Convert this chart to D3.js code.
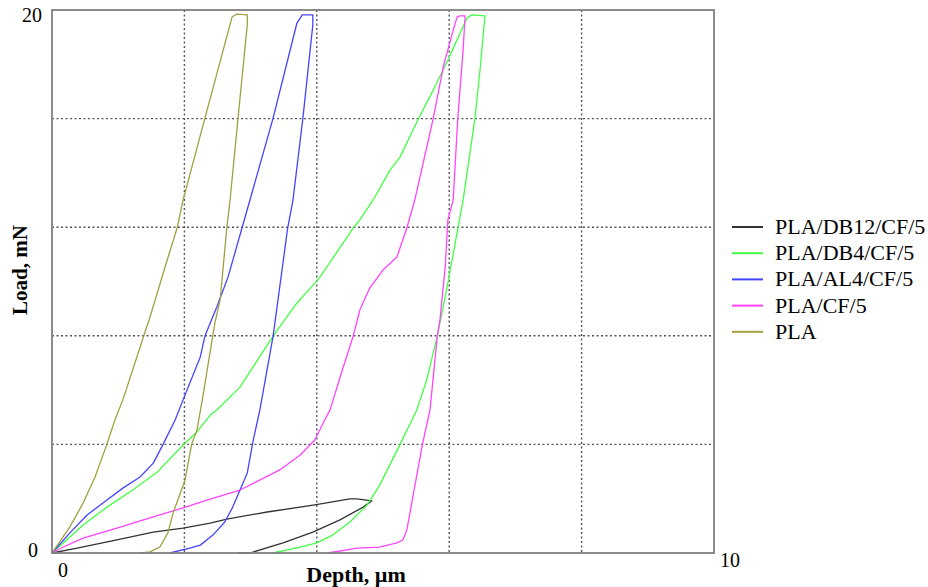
<!DOCTYPE html>
<html>
<head>
<meta charset="utf-8">
<script src="https://cdn.jsdelivr.net/npm/d3@7"></script>
<style>
  body { margin: 0; background: #fff; }
  svg { display: block; }
  text { font-family: "Liberation Serif", "Times New Roman", serif; fill: #000; }
</style>
</head>
<body>
<div id="chart"></div>
<script>
// depth (um), load (mN) - loading branch then unloading branch
const seriesNames = ['PLA/DB12/CF/5', 'PLA/DB4/CF/5', 'PLA/AL4/CF/5', 'PLA/CF/5', 'PLA'];

const db12 = [
    [0, 0], [0.38, 0.18], [0.98, 0.48], [1.53, 0.77], [1.98, 0.92], [2.39, 1.10], [2.64, 1.25],
    [3.25, 1.51], [3.97, 1.77], [4.50, 1.99], [4.61, 1.99], [4.83, 1.92],
    [4.70, 1.69], [4.35, 1.22], [3.94, 0.77], [3.49, 0.37], [2.99, 0], [2.81, 0]
];

const db4 = [
    [0, 0], [0.27, 0.59], [0.47, 1.03], [0.83, 1.69], [1.22, 2.32], [1.59, 2.98], [1.98, 3.98],
    [2.19, 4.46], [2.39, 5.08], [2.49, 5.27], [2.84, 6.11], [3.34, 7.99], [3.70, 9.21], [3.97, 9.94],
    [4.05, 10.17], [4.55, 11.97], [4.65, 12.27], [4.85, 13.00], [5.11, 14.11], [5.26, 14.59],
    [5.54, 16.02], [5.76, 17.05], [5.98, 18.16], [6.27, 19.71], [6.34, 19.82], [6.54, 19.78],
    [6.47, 17.90], [6.39, 16.02], [6.21, 13.00], [5.98, 9.94], [5.82, 7.99], [5.66, 6.37],
    [5.51, 5.27], [5.26, 4.01], [4.95, 2.50], [4.76, 1.77], [4.50, 1.14], [4.24, 0.66],
    [4.00, 0.37], [3.75, 0.22], [3.34, 0]
];

const al4 = [
    [0, 0], [0.27, 0.74], [0.53, 1.40], [0.83, 1.95], [1.07, 2.39], [1.33, 2.80], [1.53, 3.31],
    [1.68, 4.01], [1.86, 4.90], [1.98, 5.64], [2.24, 7.22], [2.31, 7.99], [2.39, 8.47], [2.49, 9.06],
    [2.66, 10.17], [2.87, 11.97], [2.99, 13.00], [3.34, 16.02], [3.70, 19.52], [3.78, 19.82], [3.94, 19.82],
    [3.94, 19.45], [3.79, 16.02], [3.64, 13.00], [3.56, 11.97], [3.34, 7.99], [3.14, 5.27], [3.04, 4.16],
    [2.95, 2.95], [2.84, 2.32], [2.73, 1.69], [2.61, 1.14], [2.43, 0.66], [2.24, 0.29], [2.08, 0.18], [1.78, 0]
];

const cf5 = [
    [0, 0], [0.17, 0.22], [0.47, 0.55], [0.98, 0.92], [1.48, 1.29], [1.98, 1.66], [2.34, 1.95],
    [2.84, 2.32], [3.44, 3.06], [3.75, 3.61], [3.97, 4.16], [4.12, 4.90], [4.20, 5.27], [4.40, 6.85],
    [4.55, 7.99], [4.65, 8.95], [4.80, 9.76], [5.00, 10.42], [5.21, 10.90], [5.36, 11.97], [5.48, 13.00],
    [5.76, 16.02], [5.91, 17.90], [6.06, 19.26], [6.12, 19.74], [6.16, 19.78], [6.24, 19.78],
    [6.21, 18.53], [6.13, 16.02], [6.06, 13.00], [5.98, 12.27], [5.94, 10.53], [5.86, 8.58], [5.82, 7.99],
    [5.71, 5.27], [5.60, 4.05], [5.45, 2.06], [5.36, 0.85], [5.30, 0.48], [5.21, 0.37], [4.95, 0.22],
    [4.61, 0.18], [4.17, 0]
];

const pla = [
    [0, 0], [0.27, 0.96], [0.47, 1.84], [0.65, 2.80], [0.83, 4.01], [0.95, 4.90], [1.07, 5.64],
    [1.48, 8.69], [1.74, 10.79], [1.89, 11.97], [1.98, 13.00], [2.31, 16.02], [2.72, 19.74],
    [2.79, 19.85], [2.95, 19.82],
    [2.95, 19.45], [2.81, 16.02], [2.69, 13.00], [2.64, 11.97], [2.54, 9.32], [2.46, 8.47],
    [2.27, 5.64], [2.19, 4.53], [2.11, 4.01], [2.01, 2.69], [1.90, 1.95], [1.83, 1.47], [1.75, 0.74],
    [1.63, 0.22], [1.48, 0.04], [1.33, 0]
];

const seriesData = [db12, db4, al4, cf5, pla];
const seriesColors = ['#333333', '#44ff44', '#4444ff', '#ff44ff', '#a0a040'];

const xTicks = [0, 2, 4, 6, 8, 10];
const yTicks = [0, 4, 8, 12, 16, 20];

function drawChart() {
    const W = 928, H = 587;
    const margin = {top: 10, right: 214, bottom: 34, left: 52};
    const width = W - margin.left - margin.right;
    const height = H - margin.top - margin.bottom;

    const svg = d3.select('#chart')
        .append('svg')
        .attr('width', W)
        .attr('height', H);

    const g = svg.append('g')
        .attr('transform', `translate(${margin.left}, ${margin.top})`);

    const x = d3.scaleLinear().domain([0, 10]).range([0, width]);
    const y = d3.scaleLinear().domain([0, 20]).range([height, 0]);

    // dotted grid
    g.selectAll('.vgrid')
        .data(xTicks.slice(1, -1))
        .enter()
        .append('line')
        .attr('x1', d => x(d)).attr('x2', d => x(d))
        .attr('y1', 0).attr('y2', height)
        .attr('stroke', '#555')
        .attr('stroke-width', 1.4)
        .attr('stroke-dasharray', '2,2.5');

    g.selectAll('.hgrid')
        .data(yTicks.slice(1, -1))
        .enter()
        .append('line')
        .attr('x1', 0).attr('x2', width)
        .attr('y1', d => y(d)).attr('y2', d => y(d))
        .attr('stroke', '#555')
        .attr('stroke-width', 1.4)
        .attr('stroke-dasharray', '2,2.5');

    // curves
    const line = d3.line()
        .x(d => x(d[0]))
        .y(d => y(d[1]));

    g.selectAll('.curve')
        .data(seriesData)
        .enter()
        .append('path')
        .attr('d', line)
        .attr('fill', 'none')
        .attr('stroke', (d, i) => seriesColors[i])
        .attr('stroke-width', 1.3)
        .attr('stroke-linejoin', 'round');

    // frame
    g.append('rect')
        .attr('x', 0).attr('y', 0)
        .attr('width', width).attr('height', height)
        .attr('fill', 'none')
        .attr('stroke', '#808080')
        .attr('stroke-width', 1.8);

    // end labels of the axes
    g.append('text')
        .attr('x', -10).attr('y', y(20) + 12)
        .attr('text-anchor', 'end')
        .style('font-size', '20px')
        .text(yTicks[yTicks.length - 1]);
    g.append('text')
        .attr('x', -14).attr('y', y(0) + 4)
        .attr('text-anchor', 'end')
        .style('font-size', '20px')
        .text(yTicks[0]);
    g.append('text')
        .attr('x', x(0) + 6).attr('y', height + 24)
        .style('font-size', '20px')
        .text(xTicks[0]);
    g.append('text')
        .attr('x', width + 6).attr('y', height + 14)
        .style('font-size', '20px')
        .text(xTicks[xTicks.length - 1]);

    // axis titles
    g.append('text')
        .attr('x', width / 2 - 27).attr('y', height + 29)
        .attr('text-anchor', 'middle')
        .style('font-size', '22px')
        .style('font-weight', 'bold')
        .text('Depth, µm');
    g.append('text')
        .attr('transform', `translate(${-25}, ${260}) rotate(-90)`)
        .attr('text-anchor', 'middle')
        .style('font-size', '21px')
        .style('font-weight', 'bold')
        .text('Load, mN');

    // legend
    const legend = svg.append('g')
        .attr('transform', 'translate(732, 227)');
    const rows = legend.selectAll('.row')
        .data(seriesNames)
        .enter()
        .append('g')
        .attr('transform', (d, i) => `translate(0, ${i * 26.2})`);
    rows.append('line')
        .attr('x1', 0).attr('x2', 31)
        .attr('y1', 0).attr('y2', 0)
        .attr('stroke', (d, i) => seriesColors[i])
        .attr('stroke-width', 2);
    rows.append('text')
        .attr('x', 43).attr('y', 7)
        .style('font-size', '22px')
        .text(d => d);
}

drawChart();
</script>
</body>
</html>
